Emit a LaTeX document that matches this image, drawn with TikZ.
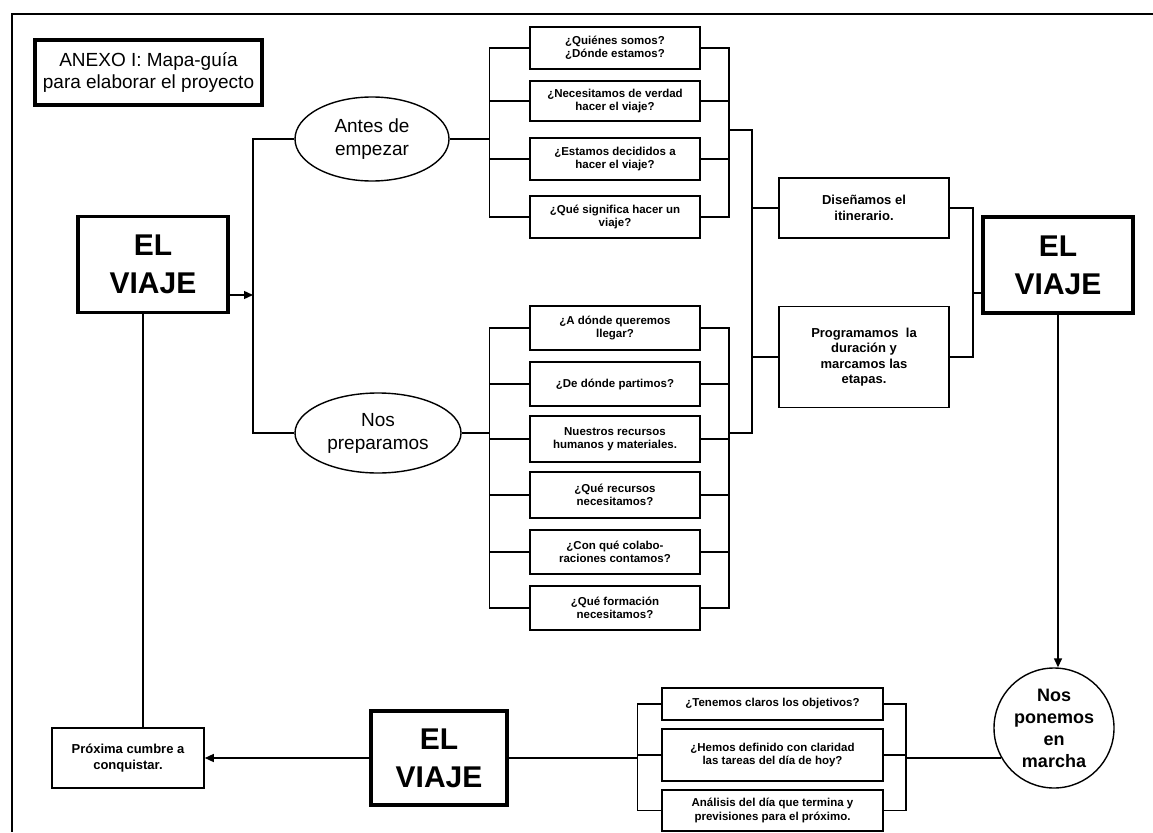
\documentclass[tikz,border=0pt]{standalone}
\usepackage{fontspec}
\setmainfont{Liberation Sans}
\usetikzlibrary{arrows.meta,shapes.geometric}
\begin{document}
\begin{tikzpicture}[x=1pt,y=-1pt,
  conn/.style={line width=1.4pt},
  arr/.style={line width=1.4pt,-{Triangle[length=9pt,width=8pt]}},
  qbox/.style={draw,line width=1.6pt,minimum width=170pt,inner sep=1pt,align=center,font=\fontsize{11.5}{13}\selectfont\bfseries},
  rbox/.style={qbox,minimum width=221pt,font=\fontsize{11.5}{13.5}\selectfont\bfseries},
  mbox/.style={draw,line width=1.6pt,minimum width=170pt,inner sep=1pt,align=center,font=\fontsize{13}{15.5}\selectfont\bfseries},
  viaje/.style={draw,line width=3.8pt,minimum width=150pt,minimum height=96pt,inner sep=0pt,align=center,font=\fontsize{30}{38}\selectfont\bfseries},
  oval/.style={draw,ellipse,line width=1.4pt,inner sep=0pt,align=center,font=\fontsize{19}{23}\selectfont},
]
\useasboundingbox (0,0) rectangle (1153,832);
\fill[white] (0,0) rectangle (1153,832);
% frame
\draw[line width=1.2pt] (1153,14) -- (12,14) -- (12,832);

% title
\node[draw,line width=4.5pt,minimum width=227pt,minimum height=65pt,inner sep=0pt,align=center,font=\fontsize{19}{22}\selectfont] (title) at (148.5,72.5) {ANEXO I: Mapa-guía\\para elaborar el proyecto};

% big boxes
\node[viaje] (lv) at (153,264.5) {EL\\VIAJE};
\node[viaje] (rv) at (1058,265) {EL\\VIAJE};
\node[viaje,minimum width=136pt,minimum height=94pt] (bv) at (439,758) {EL\\VIAJE};

% ellipses
\node[oval,minimum width=154pt,minimum height=84pt] (antes) at (372,139) {Antes de\\empezar};
\node[oval,minimum width=166pt,minimum height=80pt] (prep) at (378,433) {Nos\\preparamos};

% top questions
\node[qbox,minimum height=42pt] (t1) at (615,48) {¿Quiénes somos?\\¿Dónde estamos?};
\node[qbox,minimum height=40pt] (t2) at (615,101) {¿Necesitamos de verdad\\hacer el viaje?};
\node[qbox,minimum height=42pt] (t3) at (615,159) {¿Estamos decididos a\\hacer el viaje?};
\node[qbox,minimum height=42pt] (t4) at (615,217) {¿Qué significa hacer un\\viaje?};

% bottom questions
\node[qbox,minimum height=44pt] (b1) at (615,328) {¿A dónde queremos\\llegar?};
\node[qbox,minimum height=44pt] (b2) at (615,384) {¿De dónde partimos?};
\node[qbox,minimum height=46pt] (b3) at (615,439) {Nuestros recursos\\humanos y materiales.};
\node[qbox,minimum height=46pt] (b4) at (615,495) {¿Qué recursos\\necesitamos?};
\node[qbox,minimum height=44pt] (b5) at (615,552) {¿Con qué colabo-\\raciones contamos?};
\node[qbox,minimum height=44pt] (b6) at (615,608) {¿Qué formación\\necesitamos?};

% middle boxes
\node[mbox,minimum height=60pt] (dis) at (864,208) {Diseñamos el\\itinerario.};
\node[mbox,minimum height=101pt] (prog) at (864,357) {Programamos\ \ la\\duración y\\marcamos las\\etapas.};

% circle
\node[draw,circle,line width=1.4pt,minimum size=120pt,inner sep=0pt,align=center,font=\fontsize{18}{22}\selectfont\bfseries] (circ) at (1054,728) {Nos\\ponemos\\en\\marcha};

% bottom row questions
\node[rbox,minimum height=32pt] (r1) at (772.5,704) {¿Tenemos claros los objetivos?};
\node[rbox,minimum height=52pt] (r2) at (772.5,755) {¿Hemos definido con claridad\\las tareas del día de hoy?};
\node[rbox,minimum height=41pt] (r3) at (772.5,810.5) {Análisis del día que termina y\\previsiones para el próximo.};

% next summit
\node[mbox,minimum width=152pt,minimum height=60pt] (prox) at (128,758) {Próxima cumbre a\\conquistar.};

% coordinates
\coordinate (la) at (253,295);
\coordinate (vt) at (253,139);
\coordinate (vb) at (253,433);
\coordinate (ta) at (490,139);
\coordinate (pa) at (490,433);
\coordinate (tb) at (728,130);
\coordinate (pb) at (728,433);
\coordinate (m1) at (752,130);
\coordinate (m2) at (752,433);
\coordinate (rb) at (972,293);
\coordinate (ld) at (143,0);
\coordinate (bl) at (638,758);
\coordinate (br) at (905,758);

% left part
\draw[arr] (la -| lv.east) -- (la);
\draw[conn] (antes.west) -- (vt) -- (vb) -- (prep.west);
\draw[conn] (lv.south -| ld) -- (prox.north -| ld);

% top group brackets
\draw[conn] (antes.east) -- (ta);
\draw[conn] (t1.west) -- ++(-40,0) |- (t4.west);
\foreach \n in {t2,t3} \draw[conn] (\n.west) -- ++(-40,0);
\draw[conn] (t1.east) -- ++(28,0) |- (t4.east);
\foreach \n in {t2,t3} \draw[conn] (\n.east) -- ++(28,0);
\draw[conn] (tb) -- (m1) -- (m2) -- (pb);

% bottom group brackets
\draw[conn] (prep.east) -- (pa);
\draw[conn] (b1.west) -- ++(-40,0) |- (b6.west);
\foreach \n in {b2,b3,b4,b5} \draw[conn] (\n.west) -- ++(-40,0);
\draw[conn] (b1.east) -- ++(28,0) |- (b6.east);
\foreach \n in {b2,b3,b4,b5} \draw[conn] (\n.east) -- ++(28,0);

% middle
\draw[conn] (dis.west -| m1) -- (dis.west);
\draw[conn] (prog.west -| m1) -- (prog.west);
\draw[conn] (dis.east) -- ++(23,0) |- (prog.east);
\draw[conn] (rb) -- (rb -| rv.west);

% right down to circle
\draw[arr] (rv.south) -- (rv.south |- circ.north);

% bottom row
\draw[conn] (br) -- (br -| circ.209);
\draw[conn] (r1.east) -- ++(22,0) |- (r3.east);
\draw[conn] (r2.east) -- ++(22,0);
\draw[conn] (r1.west) -- ++(-24,0) |- (r3.west);
\draw[conn] (r2.west) -- ++(-24,0);
\draw[conn] (bv.east) -- (bl);
\draw[arr] (bv.west) -- (prox.east);
\end{tikzpicture}
\end{document}
